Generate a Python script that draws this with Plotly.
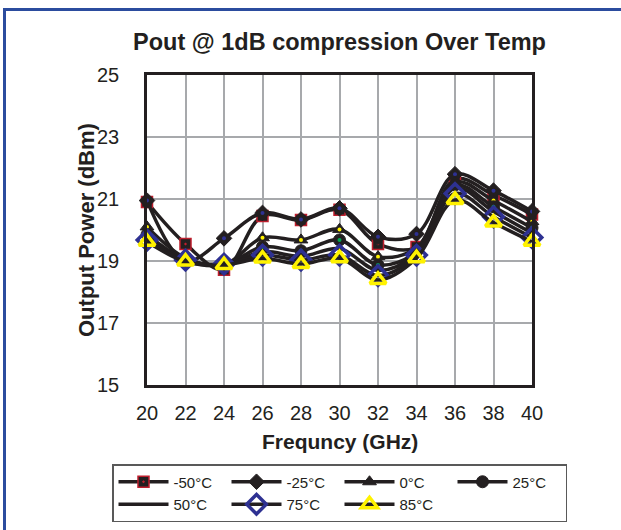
import plotly.graph_objects as go

# Frequency sweep (GHz)
freq = [20, 22, 24, 26, 28, 30, 32, 34, 36, 38, 40]

# Output power at 1 dB compression (dBm) per temperature
p_m50 = [20.90, 19.55, 18.72, 20.45, 20.32, 20.65, 19.55, 19.45, 21.65, 21.13, 20.50]
p_m25 = [20.95, 19.00, 19.73, 20.55, 20.34, 20.70, 19.78, 19.87, 21.80, 21.27, 20.60]
p_0 = [20.10, 19.10, 18.88, 19.75, 19.68, 20.02, 19.14, 19.42, 21.55, 20.95, 20.27]
p_25 = [19.85, 19.05, 18.88, 19.46, 19.33, 19.68, 18.87, 19.30, 21.45, 20.75, 20.07]
p_50 = [19.75, 19.00, 18.87, 19.30, 19.15, 19.40, 18.70, 19.25, 21.35, 20.60, 19.90]
p_75 = [19.68, 19.03, 18.90, 19.19, 19.03, 19.19, 18.53, 19.19, 21.18, 20.43, 19.76]
p_85 = [19.62, 18.98, 18.87, 19.08, 18.90, 19.09, 18.39, 19.09, 20.97, 20.24, 19.62]

x_ticks = [20, 22, 24, 26, 28, 30, 32, 34, 36, 38, 40]
y_ticks = [15, 17, 19, 21, 23, 25]

FONT = "Liberation Sans, Arial, sans-serif"
INK = "#231f20"
RED = "#be1e2d"
BLUE = "#2e3192"
YELLOW = "#fff200"
GREEN = "#00a651"

fig = go.Figure()


def add_series(name, ys, marker=None, dot=None):
    line = dict(color=INK, width=3.5, shape="spline", smoothing=1.0)
    if marker is None:
        fig.add_trace(go.Scatter(x=freq, y=ys, name=name, mode="lines",
                                 line=line, cliponaxis=False))
    else:
        fig.add_trace(go.Scatter(x=freq, y=ys, name=name, mode="lines+markers",
                                 line=line, marker=marker, cliponaxis=False))
    if dot is not None:
        fig.add_trace(go.Scatter(x=freq, y=ys, mode="markers", showlegend=False,
                                 hoverinfo="skip", cliponaxis=False,
                                 marker=dict(symbol="circle", size=4, color=dot,
                                             line=dict(width=0))))


add_series("-50°C", p_m50,
           marker=dict(symbol="square-dot", size=11, color=INK,
                       line=dict(color=RED, width=1.5)))
add_series("-25°C", p_m25,
           marker=dict(symbol="diamond", size=12, color=INK,
                       line=dict(color=INK, width=1)), dot=BLUE)
add_series("0°C", p_0,
           marker=dict(symbol="triangle-up", size=12, color=INK,
                       line=dict(color=INK, width=1)), dot=YELLOW)
add_series("25°C", p_25,
           marker=dict(symbol="circle", size=12, color=INK,
                       line=dict(color=INK, width=1)), dot=GREEN)
add_series("50°C", p_50)
add_series("75°C", p_75,
           marker=dict(symbol="diamond-open", size=15, color=BLUE,
                       line=dict(color=BLUE, width=3.5)))
add_series("85°C", p_85,
           marker=dict(symbol="triangle-up-open", size=14, color=YELLOW,
                       line=dict(color=YELLOW, width=3.5)))

W, H = 621, 530
L, R, T, B = 147, 89, 75, 145
pw, ph = W - L - R, H - T - B


def px_x(px):
    return (px - L) / pw


def px_y(py):
    return (H - B - py) / ph


axis_common = dict(
    showgrid=True, gridcolor="#a7a9ac", gridwidth=1.5,
    showline=True, linecolor=INK, linewidth=2.5, mirror=True,
    zeroline=False, ticks="outside", tickcolor="rgba(0,0,0,0)",
    tickfont=dict(family=FONT, size=20, color=INK),
)

fig.update_layout(
    width=W, height=H,
    margin=dict(l=L, r=R, t=T, b=B, autoexpand=False),
    paper_bgcolor="white", plot_bgcolor="white",
    font=dict(family=FONT, color=INK),
    title=dict(text="Pout @ 1dB compression Over Temp",
               font=dict(family=FONT, size=23.5, weight="bold", color=INK),
               x=0.5, xref="paper", xanchor="center",
               y=1 - 42 / H, yref="container", yanchor="middle"),
    xaxis=dict(range=[20, 40], tickvals=x_ticks, ticklen=8, **axis_common),
    yaxis=dict(range=[15, 25], tickvals=y_ticks, ticklen=21, **axis_common),
    showlegend=True,
    legend=dict(
        orientation="h", x=px_x(112), y=px_y(522),
        xanchor="left", yanchor="bottom",
        bgcolor="white", bordercolor="#595959", borderwidth=1.5,
        font=dict(family=FONT, size=15, color=INK),
        itemwidth=50, entrywidthmode="pixels", entrywidth=48,
        traceorder="normal",
    ),
    annotations=[
        dict(text="Output Power (dBm)", xref="paper", yref="paper",
             x=px_x(86), y=0.5, xanchor="center", yanchor="middle",
             textangle=-90, showarrow=False,
             font=dict(family=FONT, size=22, weight="bold", color=INK)),
        dict(text="Frequncy (GHz)", xref="paper", yref="paper",
             x=0.5, y=px_y(441), xanchor="center", yanchor="middle",
             showarrow=False,
             font=dict(family=FONT, size=21, weight="bold", color=INK)),
    ],
    shapes=[
        dict(type="rect", xref="paper", yref="paper",
             x0=px_x(4.5), y0=px_y(560), x1=px_x(660), y1=px_y(9.5),
             line=dict(color="#2b4c9e", width=3), fillcolor="rgba(0,0,0,0)",
             layer="below"),
    ],
)

fig.write_html("out.html")
